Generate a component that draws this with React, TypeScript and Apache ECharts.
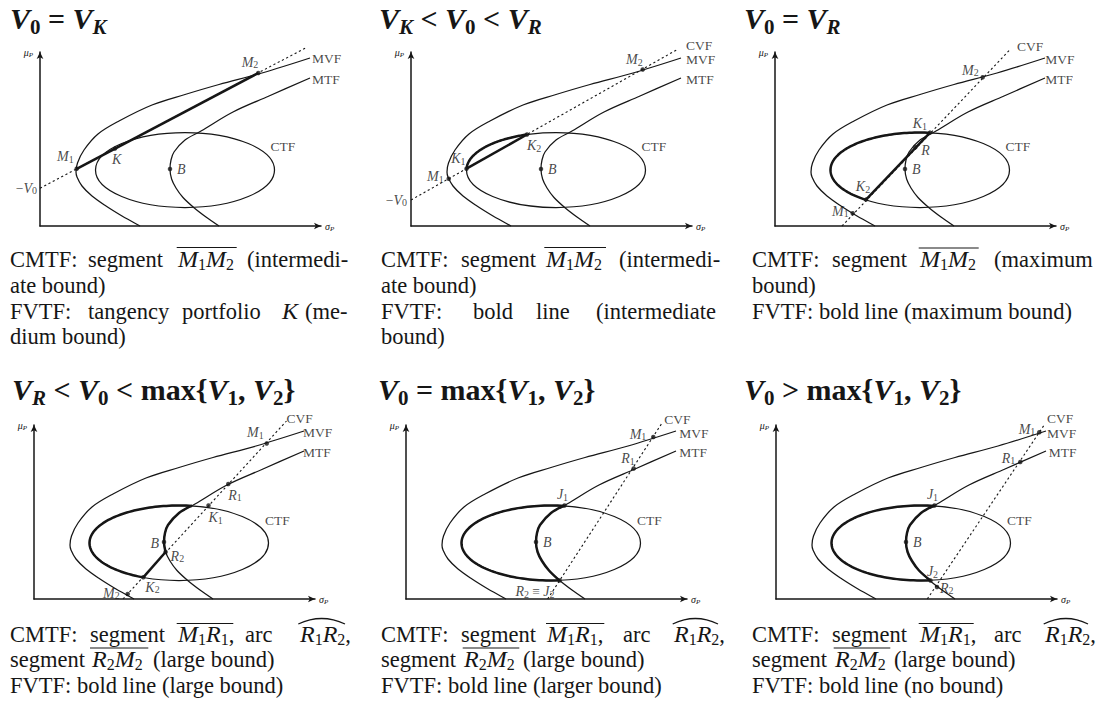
import { useEffect, useRef } from 'react';
import * as echarts from 'echarts';

const SERIF = '"Liberation Serif", "DejaVu Serif", serif';
const INK = '#161616';

// axes origin of each of the six panels (page px) and axis lengths
const panelOrigins: [number, number][] = [
  [40, 226], [411, 226], [775, 226],
  [34, 599], [406, 599], [776, 599],
];
const AX_W = 281;
const AX_H = 174;

// frontiers (x = sigma_P, y = mu_P, panel units)
const mvfCurve: number[][] = [
  [100, 0], [91, 5], [82, 10], [66, 20], [52, 30], [42, 40], [37, 49], [36, 54],
  [37.5, 63], [44, 76], [58, 92], [79, 105], [112, 121], [145, 131.5], [179, 141.5], [222, 153], [270, 168],
];
const mtfCurve: number[][] = [
  [179, 0], [166, 9], [154, 18.3], [143, 28.5], [136, 38], [131.6, 47], [130, 57], [131, 66],
  [134, 74], [145, 86], [161, 95], [193, 114], [229, 130], [270, 148],
];
// CTF ellipse: centre x, centre y, half width, half height
const ctfEllipse = [145, 56, 89.5, 37.5];

// CVF dashed lines, one per panel
const cvfLines: number[][][] = [
  [[0, 37.8], [266.7, 178.7]],
  [[0, 26], [266.7, 176.7]],
  [[67, 0], [235.3, 176.7]],
  [[89, 0], [252.5, 178]],
  [[141.6, 0], [256.7, 177]],
  [[151.3, 0], [268, 173.7]],
];

type Pt = [string, number, number];
const panel1Points: Pt[] = [['M1', 36.7, 57.2], ['K', 75, 77.4], ['M2', 218.3, 153], ['B', 130, 57]];
const panel2Points: Pt[] = [['M1', 37.7, 47.3], ['K1', 55.5, 57.3], ['K2', 116, 91.5], ['M2', 231.7, 156.5], ['B', 130, 57]];
const panel3Points: Pt[] = [['M1', 77.7, 12.7], ['K2', 91, 26.4], ['R', 140.3, 78.7], ['B', 130, 57], ['K1', 155, 93.4], ['M2', 207.7, 148.7]];
const panel4Points: Pt[] = [['M2', 93.7, 5], ['K2', 109.3, 21.7], ['R2', 131.6, 47], ['B', 130, 57], ['K1', 174.5, 93.5], ['R1', 194.3, 115], ['M1', 232.7, 155.5], ['_J1', 158, 93.3]];
const panel5Points: Pt[] = [['M1', 247.3, 162], ['R1', 227.7, 130.5], ['J1', 158.5, 93.5], ['B', 130, 57], ['R2≡J2', 153.5, 18.5]];
const panel6Points: Pt[] = [['M1', 263.3, 166.7], ['R1', 244.3, 137], ['J1', 158.5, 93.5], ['B', 130, 57], ['J2', 154.5, 18.5], ['R2', 161, 12]];
const panelPoints = [panel1Points, panel2Points, panel3Points, panel4Points, panel5Points, panel6Points];

// bold parts (by point names)
const boldSegments: (string[] | null)[] = [['M1', 'M2'], ['K1', 'K2'], ['K2', 'K1'], ['K2', 'R2'], null, null];
const boldArcs: (string[] | null)[] = [null, ['K2', 'K1'], ['K1', 'K2'], ['_J1', 'K2'], ['J1', 'R2≡J2'], ['J1', 'J2']];
const boldMtf: (string[] | null)[] = [null, null, null, ['R2', '_J1'], ['R2≡J2', 'J1'], ['J2', 'J1']];

// ---- layout (label placement, px offsets from the point) ----
const pointLabelPlacement: Record<string, [number, number, string]>[] = [
  { M1: [-3, -12, 'right'], K: [-3, 11, 'left'], M2: [0, -11, 'right'], B: [7, 0, 'left'] },
  { M1: [-5, -2, 'right'], K1: [-1, -10, 'right'], K2: [0, 11, 'left'], M2: [0, -10, 'right'], B: [7, 0, 'left'] },
  { M1: [-4, -2, 'right'], K2: [-3, -13, 'center'], R: [6, 3, 'left'], B: [7, 0, 'left'], K1: [-3, -9, 'right'], M2: [-4, -7, 'right'] },
  { M2: [-8, -1, 'right'], K2: [2, 10, 'left'], R2: [5, 4, 'left'], B: [-5, 1, 'right'], K1: [0, 12, 'left'], R1: [0, 11, 'left'], M1: [-3, -11, 'right'] },
  { M1: [-7, -3, 'right'], R1: [1, -10, 'right'], J1: [-2, -11, 'center'], B: [7, 0, 'left'], 'R2≡J2': [-5, 11, 'right'] },
  { M1: [-4, -3, 'right'], R1: [-5, -4, 'right'], J1: [-2, -11, 'center'], B: [7, 0, 'left'], J2: [2, -9, 'center'], R2: [3, 1, 'left'] },
];
const curveLabelSpots: [string, number, number, string][][] = [
  [['MVF', 272, 168, 'left'], ['MTF', 272, 147, 'left'], ['CTF', 230.5, 79.3, 'left'], ['-V0', -3, 37.8, 'right']],
  [['CVF', 275, 180.5, 'left'], ['MVF', 275, 166.5, 'left'], ['MTF', 275, 147, 'left'], ['CTF', 230.5, 79.3, 'left'], ['-V0', -4, 26, 'right']],
  [['CVF', 242, 180, 'left'], ['MVF', 270.3, 167, 'left'], ['MTF', 270.3, 147, 'left'], ['CTF', 230.5, 79.3, 'left']],
  [['CVF', 252.4, 180.5, 'left'], ['MVF', 269, 166.5, 'left'], ['MTF', 269, 147, 'left'], ['CTF', 231, 79, 'left']],
  [['CVF', 258.3, 180, 'left'], ['MVF', 273.3, 165.5, 'left'], ['MTF', 273.3, 147, 'left'], ['CTF', 231, 79, 'left']],
  [['CVF', 271, 180.5, 'left'], ['MVF', 271, 166, 'left'], ['MTF', 272.7, 147, 'left'], ['CTF', 231, 79, 'left']],
];

const titles: [number, number, string][] = [
  [10, 29, '{V|V}{s|0} = {V|V}{si|K}'],
  [379, 29, '{V|V}{si|K} < {V|V}{s|0} < {V|V}{si|R}'],
  [744, 29, '{V|V}{s|0} = {V|V}{si|R}'],
  [12, 399.5, '{V|V}{si|R} < {V|V}{s|0} < max{{V|V}{s|1}, {V|V}{s|2}}'],
  [378, 399.5, '{V|V}{s|0} = max{{V|V}{s|1}, {V|V}{s|2}}'],
  [744, 399.5, '{V|V}{s|0} > max{{V|V}{s|1}, {V|V}{s|2}}'],
];

const captionRuns: [number, number, string][] = [
  [10, 267, 'CMTF:'], [88, 267, 'segment'], [178, 267, '{i|M}{s|1}{i|M}{s|2}'], [247, 267, '(intermedi-'],
  [10, 293, 'ate bound)'],
  [10, 319, 'FVTF:'], [88, 319, 'tangency'], [182, 319, 'portfolio'], [282, 319, '{i|K}'], [305, 319, '(me-'],
  [10, 344, 'dium bound)'],
  [381, 267, 'CMTF:'], [461, 267, 'segment'], [546, 267, '{i|M}{s|1}{i|M}{s|2}'], [619, 267, '(intermedi-'],
  [381, 293, 'ate bound)'],
  [381, 319, 'FVTF:'], [473, 319, 'bold'], [536, 319, 'line'], [596, 319, '(intermediate'],
  [381, 344, 'bound)'],
  [752, 267, 'CMTF:'], [832, 267, 'segment'], [920, 267, '{i|M}{s|1}{i|M}{s|2}'], [994, 267, '(maximum'],
  [752, 293, 'bound)'],
  [752, 319, 'FVTF: bold line (maximum bound)'],
  [10, 642, 'CMTF:'], [90, 642, 'segment'], [178, 642, '{i|M}{s|1}{i|R}{s|1},'], [245, 642, 'arc'], [300, 642, '{i|R}{s|1}{i|R}{s|2},'],
  [10, 667, 'segment'], [92, 667, '{i|R}{s|2}{i|M}{s|2}'], [153, 667, '(large bound)'],
  [10, 693, 'FVTF: bold line (large bound)'],
  [381, 642, 'CMTF:'], [461, 642, 'segment'], [547, 642, '{i|M}{s|1}{i|R}{s|1},'], [623, 642, 'arc'], [674, 642, '{i|R}{s|1}{i|R}{s|2},'],
  [381, 667, 'segment'], [464, 667, '{i|R}{s|2}{i|M}{s|2}'], [523, 667, '(large bound)'],
  [381, 693, 'FVTF: bold line (larger bound)'],
  [752, 642, 'CMTF:'], [832, 642, 'segment'], [920, 642, '{i|M}{s|1}{i|R}{s|1},'], [994, 642, 'arc'], [1045, 642, '{i|R}{s|1}{i|R}{s|2},'],
  [752, 667, 'segment'], [835, 667, '{i|R}{s|2}{i|M}{s|2}'], [894, 667, '(large bound)'],
  [752, 693, 'FVTF: bold line (no bound)'],
];
const captionOverlines: [number, number, number][] = [
  [176.7, 236.7, 247.5], [544.3, 606, 247.5], [918.7, 978.7, 248],
  [176.7, 233.3, 623.5], [90, 148.3, 648], [546, 604.3, 623.5], [462.7, 519.3, 648], [918.7, 973.7, 623.5], [833.7, 890.3, 648],
];
const captionHats: [number, number, number][] = [[298.3, 345, 624], [672.7, 718, 624], [1043.7, 1088, 624]];

function mathRich(name: string): string {
  if (name === 'R2≡J2') return '{i|R}{s|2}{r| ≡ }{i|J}{s|2}';
  if (name === '-V0') return '{r|−}{i|V}{s|0}';
  const m = name.match(/^([A-Z])(\d?)$/);
  if (m) return `{i|${m[1]}}` + (m[2] ? `{s|${m[2]}}` : '');
  return `{r|${name}}`;
}

const diagRich = {
  i: { fontFamily: SERIF, fontStyle: 'italic', fontSize: 14, lineHeight: 15, color: INK },
  s: { fontFamily: SERIF, fontSize: 10, lineHeight: 10, verticalAlign: 'bottom', color: INK },
  r: { fontFamily: SERIF, fontSize: 13.5, lineHeight: 15, color: INK },
};
const axisNameRich = {
  a: { fontFamily: SERIF, fontStyle: 'italic', fontSize: 10, lineHeight: 12, color: INK },
  b: { fontFamily: SERIF, fontStyle: 'italic', fontSize: 7, lineHeight: 7, verticalAlign: 'bottom', color: INK },
};
const titleRich = {
  V: { fontFamily: SERIF, fontSize: 30, fontStyle: 'italic', fontWeight: 'bold', lineHeight: 38, fill: INK, color: INK },
  s: { fontFamily: SERIF, fontSize: 21, fontWeight: 'bold', lineHeight: 27, verticalAlign: 'bottom', fill: INK, color: INK },
  si: { fontFamily: SERIF, fontSize: 21, fontStyle: 'italic', fontWeight: 'bold', lineHeight: 27, verticalAlign: 'bottom', fill: INK, color: INK },
};
const captionRich = {
  r: { fontFamily: SERIF, fontSize: 22.5, lineHeight: 26, fill: INK, color: INK },
  i: { fontFamily: SERIF, fontSize: 24, fontStyle: 'italic', lineHeight: 26, fill: INK, color: INK },
  s: { fontFamily: SERIF, fontSize: 16, lineHeight: 16, verticalAlign: 'bottom', fill: INK, color: INK },
};

const THIN = 1.25;
const BOLD = 2.5;

function buildOption() {
  const grid = panelOrigins.map(([ox, oy]) => ({
    left: ox, top: oy - AX_H, width: AX_W, height: AX_H, outerBoundsMode: 'none',
  }));
  const axisLine = {
    show: true, onZero: false, symbol: ['none', 'arrow'], symbolSize: [5, 7],
    lineStyle: { color: INK, width: 1.5 },
  };
  const xAxis = panelOrigins.map((_, p) => ({
    type: 'value', gridIndex: p, min: 0, max: AX_W,
    axisLine, axisTick: { show: false }, axisLabel: { show: false }, splitLine: { show: false },
    name: '{a|σ}{b|P}', nameLocation: 'end', nameGap: 4,
    nameTextStyle: { rich: axisNameRich, verticalAlign: 'middle', align: 'left' },
  }));
  const yAxis = panelOrigins.map((_, p) => ({
    type: 'value', gridIndex: p, min: 0, max: AX_H,
    axisLine, axisTick: { show: false }, axisLabel: { show: false }, splitLine: { show: false },
    name: '{a|μ}{b|P}', nameLocation: 'end', nameGap: 0,
    nameTextStyle: { rich: axisNameRich, verticalAlign: 'middle', align: 'right', padding: [0, 7, 0, 0] },
  }));

  const series: any[] = [];
  const ellipseRender = (_params: any, api: any) => {
    const c = api.coord([api.value(0), api.value(1)]);
    const s = api.size([api.value(2), api.value(3)]);
    return {
      type: 'ellipse', shape: { cx: c[0], cy: c[1], rx: s[0], ry: s[1] },
      style: { fill: null, stroke: INK, lineWidth: THIN },
    };
  };
  const arcRender = (_params: any, api: any) => {
    const [cx, cy, rx, ry] = ctfEllipse;
    const x1 = api.value(0), y1 = api.value(1), x2 = api.value(2), y2 = api.value(3);
    const a1 = Math.atan2((y1 - cy) / ry, (x1 - cx) / rx);
    let a2 = Math.atan2((y2 - cy) / ry, (x2 - cx) / rx);
    while (a2 <= a1) a2 += Math.PI * 2;
    const points: number[][] = [];
    const n = 90;
    for (let k = 0; k <= n; k++) {
      const a = a1 + ((a2 - a1) * k) / n;
      points.push(api.coord([cx + rx * Math.cos(a), cy + ry * Math.sin(a)]));
    }
    return { type: 'polyline', shape: { points }, style: { fill: null, stroke: INK, lineWidth: BOLD, lineJoin: 'round' } };
  };

  panelOrigins.forEach((_, p) => {
    const axis = { xAxisIndex: p, yAxisIndex: p, silent: true, clip: false, z: 2 };
    const pts = panelPoints[p];
    const at = (n: string) => {
      const q = pts.find((t) => t[0] === n)!;
      return [q[1], q[2]];
    };
    series.push({ type: 'line', ...axis, data: mvfCurve, smooth: 0.35, symbol: 'none', lineStyle: { color: INK, width: THIN } });
    series.push({ type: 'line', ...axis, data: mtfCurve, smooth: 0.35, symbol: 'none', lineStyle: { color: INK, width: THIN } });
    series.push({ type: 'custom', ...axis, data: [ctfEllipse], renderItem: ellipseRender });
    series.push({ type: 'line', ...axis, data: cvfLines[p], symbol: 'none', lineStyle: { color: INK, width: 1.1, type: [2.2, 2.6] } });
    const seg = boldSegments[p];
    if (seg) {
      series.push({ type: 'line', ...axis, z: 3, data: seg.map(at), symbol: 'none', lineStyle: { color: INK, width: BOLD } });
    }
    const bm = boldMtf[p];
    if (bm) {
      const a = at(bm[0]);
      const b = at(bm[1]);
      const mid = mtfCurve.filter((q) => q[1] > a[1] + 2 && q[1] < b[1] - 2);
      series.push({ type: 'line', ...axis, z: 3, data: [a, ...mid, b], smooth: 0.35, symbol: 'none', lineStyle: { color: INK, width: BOLD } });
    }
    const arc = boldArcs[p];
    if (arc) {
      const a = at(arc[0]);
      const b = at(arc[1]);
      series.push({ type: 'custom', ...axis, z: 3, data: [[a[0], a[1], b[0], b[1]]], renderItem: arcRender });
    }
    series.push({
      type: 'scatter', ...axis, z: 5, symbol: 'circle', symbolSize: 4.5,
      itemStyle: { color: INK },
      label: { show: true, position: 'inside', verticalAlign: 'middle', rich: diagRich, color: INK },
      data: pts.filter((q) => !q[0].startsWith('_')).map((q) => {
        const pl = pointLabelPlacement[p][q[0]] || [6, 0, 'left'];
        return { value: [q[1], q[2]], label: { formatter: mathRich(q[0]), offset: [pl[0], pl[1]], align: pl[2] } };
      }),
    });
    series.push({
      type: 'scatter', ...axis, z: 5, symbol: 'circle', symbolSize: 1,
      itemStyle: { color: 'rgba(0,0,0,0)' },
      label: { show: true, position: 'inside', verticalAlign: 'middle', rich: diagRich, color: INK },
      data: curveLabelSpots[p].map((c) => ({
        value: [c[1] < 0 ? 0 : c[1], c[2]],
        label: { formatter: mathRich(c[0]), align: c[3], offset: [c[1] < 0 ? c[1] : 0, 0] },
      })),
    });
  });

  const elements: any[] = [];
  titles.forEach(([x, base, t]) => {
    elements.push({
      type: 'text', x, y: base - 10.2, silent: true,
      style: {
        text: t, rich: titleRich, fill: INK, font: `bold 30px ${SERIF}`, fontFamily: SERIF, fontSize: 30, fontWeight: 'bold',
        lineHeight: 38, align: 'left', verticalAlign: 'middle',
      },
    });
  });
  captionRuns.forEach(([x, base, t]) => {
    const rich = t.includes('{') ? t : `{r|${t}}`;
    elements.push({
      type: 'text', x, y: base - 7.65, silent: true,
      style: {
        text: rich, rich: captionRich, fill: INK, font: `22.5px ${SERIF}`, fontFamily: SERIF, fontSize: 22.5,
        lineHeight: 26, align: 'left', verticalAlign: 'middle',
      },
    });
  });
  captionOverlines.forEach(([x1, x2, y]) => {
    elements.push({ type: 'line', silent: true, shape: { x1, y1: y, x2, y2: y }, style: { stroke: INK, lineWidth: 1.1 } });
  });
  captionHats.forEach(([x1, x2, y]) => {
    elements.push({
      type: 'bezierCurve', silent: true,
      shape: { x1, y1: y, x2, y2: y, cpx1: (x1 + x2) / 2, cpy1: y - 11 },
      style: { stroke: INK, lineWidth: 1.3, fill: null },
    });
  });

  return {
    animation: false,
    backgroundColor: '#ffffff',
    grid, xAxis, yAxis, series,
    graphic: { elements },
  };
}

export default function App() {
  const ref = useRef<HTMLDivElement>(null);
  useEffect(() => {
    if (!ref.current) return;
    const chart = echarts.init(ref.current, null, { renderer: 'svg' });
    chart.setOption(buildOption() as any);
    return () => chart.dispose();
  }, []);
  return (
    <div
      ref={ref}
      style={{ position: 'fixed', left: 0, top: 0, width: 1098, height: 701, background: '#fff' }}
    />
  );
}
